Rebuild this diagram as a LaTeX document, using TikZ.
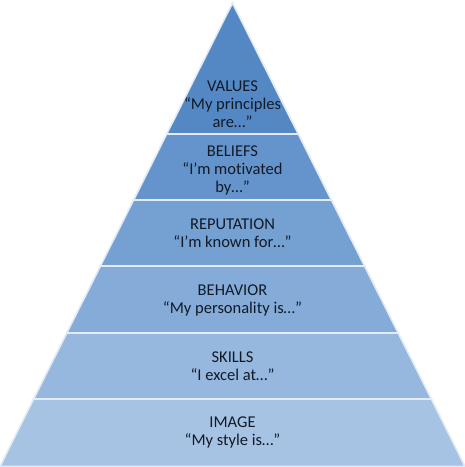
\documentclass[tikz,border=0pt]{standalone}
\usepackage{fontspec}
\setmainfont{Carlito}[Ligatures=NoCommon]
\definecolor{c1}{RGB}{84,136,196}
\definecolor{c2}{RGB}{100,148,203}
\definecolor{c3}{RGB}{117,160,210}
\definecolor{c4}{RGB}{133,172,216}
\definecolor{c5}{RGB}{150,183,222}
\definecolor{c6}{RGB}{167,195,228}
\definecolor{txt}{RGB}{18,26,40}
\definecolor{sep}{RGB}{226,235,246}
\begin{document}
\begin{tikzpicture}[x=1pt,y=-1pt,
  lbl/.style={align=center,text=txt,font=\fontsize{16.5}{18}\selectfont,inner sep=0pt},
  band/.style={draw=sep,line width=1.6pt,line join=miter}]
\useasboundingbox (0,0) rectangle (465,467);
\fill[white] (0,0) rectangle (465,467);
\coordinate (A) at (232.5,3);
\filldraw[band,fill=c1] (A) -- (298.3,134) -- (166.7,134) -- cycle;
\filldraw[band,fill=c2] (166.7,134) -- (298.3,134) -- (331.4,200) -- (133.6,200) -- cycle;
\filldraw[band,fill=c3] (133.6,200) -- (331.4,200) -- (364.6,266) -- (100.4,266) -- cycle;
\filldraw[band,fill=c4] (100.4,266) -- (364.6,266) -- (398.2,333) -- (66.8,333) -- cycle;
\filldraw[band,fill=c5] (66.8,333) -- (398.2,333) -- (431.4,399) -- (33.6,399) -- cycle;
\filldraw[band,fill=c6] (33.6,399) -- (431.4,399) -- (465,466.5) -- (0,466.5) -- cycle;
\node[lbl] (values) at (232.5,104) {VALUES\\“My principles\\are…”};
\node[lbl] (beliefs) at (232.5,170) {BELIEFS\\“I’m motivated\\by…”};
\node[lbl] (reputation) at (232.5,233) {REPUTATION\\“I’m known for…”};
\node[lbl] (behavior) at (232.5,300) {BEHAVIOR\\“My personality is…”};
\node[lbl] (skills) at (232.5,366) {SKILLS\\“I excel at…”};
\node[lbl] (image) at (232.5,432) {IMAGE\\“My style is…”};
\end{tikzpicture}
\end{document}
